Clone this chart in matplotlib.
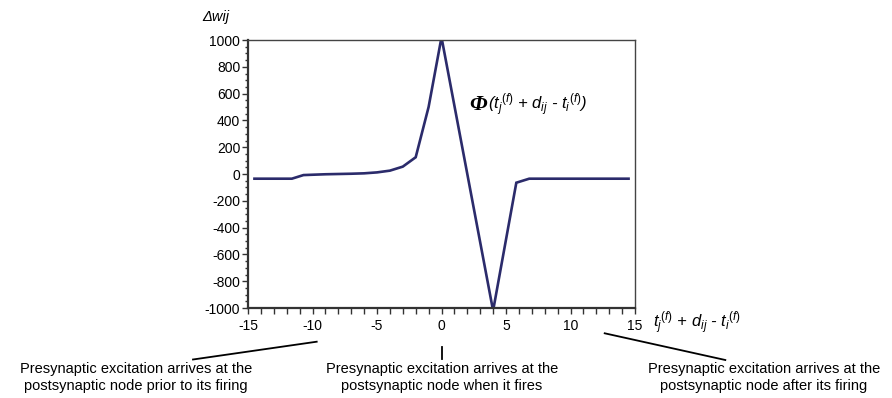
import numpy as np
import matplotlib.pyplot as plt
from matplotlib.ticker import MultipleLocator

plt.rcParams['font.family'] = ['Liberation Sans', 'DejaVu Sans']
plt.rcParams['axes.unicode_minus'] = False
plt.rcParams['mathtext.fontset'] = 'custom'
plt.rcParams['mathtext.rm'] = 'Liberation Sans'
plt.rcParams['mathtext.it'] = 'Liberation Sans:italic'
plt.rcParams['mathtext.bf'] = 'Liberation Serif:bold:italic'

# time difference and weight change
dt = [-14.5, -11.6, -10.7, -9, -8, -7, -6, -5, -4, -3, -2, -1, 0, 4, 5.8, 6.8, 14.5]
dw = [-35, -35, -8, -2, 0, 2, 5, 12, 25, 55, 125, 500, 1020, -1020, -65, -35, -35]

x_ticks = [-15, -10, -5, 0, 5, 10, 15]
y_ticks = [-1000, -800, -600, -400, -200, 0, 200, 400, 600, 800, 1000]

notes = ["Presynaptic excitation arrives at the\npostsynaptic node prior to its firing",
         "Presynaptic excitation arrives at the\npostsynaptic node when it fires",
         "Presynaptic excitation arrives at the\npostsynaptic node after its firing"]

fig = plt.figure(figsize=(8.92, 3.98), dpi=100)
ax = fig.add_axes([248 / 892, 90 / 398, 387 / 892, 268 / 398])

ax.plot(dt, dw, color='#2b2b6b', lw=1.9, solid_joinstyle='miter')
ax.set_xlim(-15, 15)
ax.set_ylim(-1000, 1000)
ax.set_xticks(x_ticks)
ax.set_yticks(y_ticks)
ax.xaxis.set_minor_locator(MultipleLocator(1))
ax.yaxis.set_minor_locator(MultipleLocator(50))
ax.tick_params(axis='both', which='major', labelsize=10, length=4, width=1,
               color='#333333', direction='out')
ax.tick_params(axis='x', which='major', pad=4)
ax.tick_params(axis='y', which='major', pad=1.5)
ax.tick_params(axis='y', which='minor', length=2.5, width=1, color='#333333')
ax.tick_params(axis='x', which='minor', length=4, width=1, color='#333333')
for s in ['left', 'bottom']:
    ax.spines[s].set_linewidth(1.6)
    ax.spines[s].set_color('#333333')
for s in ['top', 'right']:
    ax.spines[s].set_linewidth(1.0)
    ax.spines[s].set_color('#444444')

fig.text(202 / 892, 1 - 17 / 398, 'Δwij', fontsize=10.5, style='italic',
         va='center', ha='left')
fig.text(469 / 892, 1 - 110 / 398, r'$\mathbf{\Phi}$', fontsize=16,
         va='baseline', ha='left')
fig.text(488 / 892, 1 - 110 / 398, r'($t_j{}^{(f)}$ + $d_{ij}$ - $t_i{}^{(f)}$)',
         fontsize=12, style='italic', va='baseline', ha='left')
fig.text(653 / 892, 1 - 328 / 398, r'$t_j{}^{(f)}$ + $d_{ij}$ - $t_i{}^{(f)}$',
         fontsize=12, style='italic', va='baseline', ha='left')

fig.add_artist(plt.Line2D([316.7 / 892, 193 / 892], [1 - 341.7 / 398, 1 - 359.5 / 398],
                          color='black', lw=1.3))
fig.add_artist(plt.Line2D([441.7 / 892, 441.7 / 892], [1 - 346.5 / 398, 1 - 358.5 / 398],
                          color='black', lw=1.3))
fig.add_artist(plt.Line2D([604.7 / 892, 725.3 / 892], [1 - 333.3 / 398, 1 - 360 / 398],
                          color='black', lw=1.3))

for cx, txt in zip([135.8, 441.7, 763.7], notes):
    fig.text(cx / 892, 1 - 377.5 / 398, txt, fontsize=10.5, ha='center', va='center',
             linespacing=1.2)

fig.savefig('out.png', dpi=100)
